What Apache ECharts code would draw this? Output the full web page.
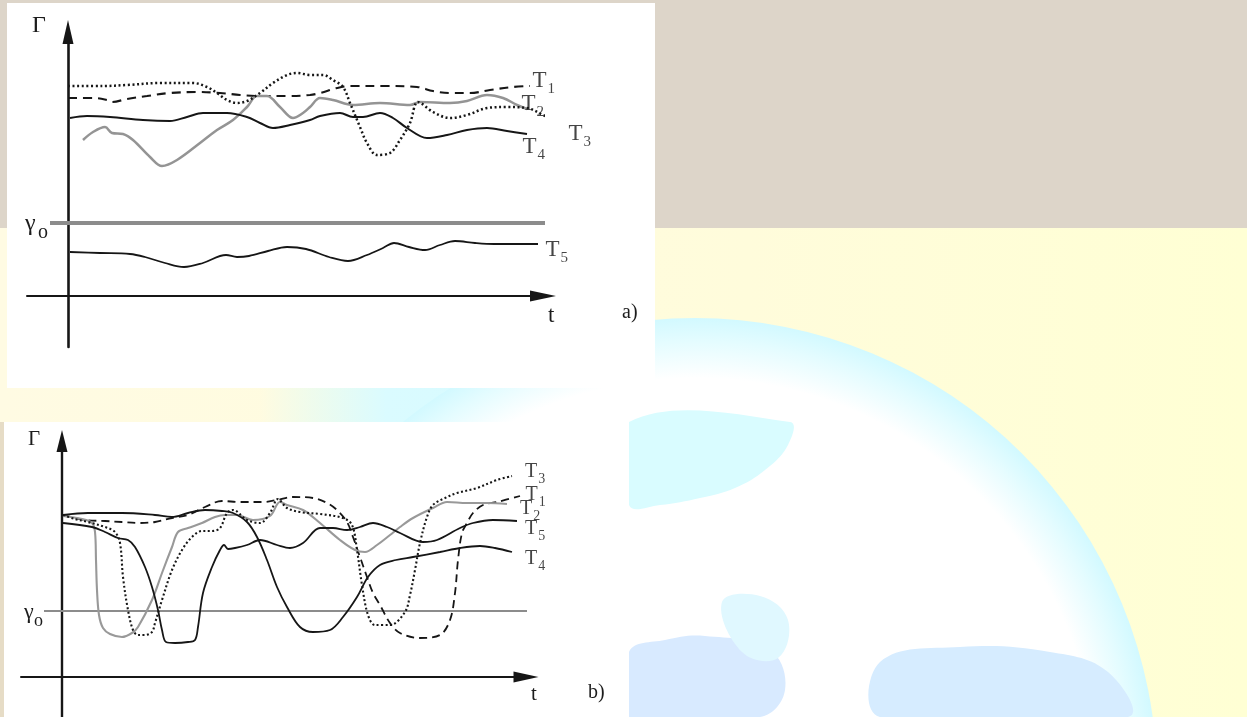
<!DOCTYPE html>
<html><head><meta charset="utf-8">
<script src="https://cdn.jsdelivr.net/npm/echarts@6/dist/echarts.min.js"></script>
<style>html,body{margin:0;padding:0;background:#fffcdc;overflow:hidden}#c{width:1247px;height:717px}</style>
</head><body><div id="c"></div>
<script>
// ---------- DATA (t, Γ) ----------
// panel a)
const a_T1 = [[0,19.8],[2.5,19.8],[3.9,19.6],[4.4,19.4],[5.9,19.7],[7.9,20.0],[10.2,20.3],[12.9,20.4],[15.2,20.3],[17.2,20.1],[19.2,20.0],[21.9,20.0],[24.2,20.1],[25.2,20.3],[26.9,20.8],[28.2,21.0],[31.5,21.0],[34.9,20.9],[36.5,20.5],[38.2,20.3],[40.2,20.3],[42.2,20.6],[44.5,20.9],[46.2,21.0]];
const a_T2 = [[1.5,15.6],[2.5,16.4],[3.7,16.9],[4.4,16.3],[5.5,16.2],[6.5,15.6],[8.2,13.9],[9.4,13.0],[10.9,13.6],[13.2,15.3],[14.9,16.6],[16.5,17.6],[17.9,18.9],[18.9,20.0],[19.9,20.0],[21.2,18.9],[22.5,17.8],[23.5,18.3],[24.2,18.9],[25.2,19.8],[26.5,19.6],[28.5,19.1],[31.2,19.3],[34.2,19.1],[35.2,19.4],[38.2,19.3],[39.9,19.5],[41.9,20.1],[43.5,19.8],[44.9,19.1],[45.9,18.7]];
const a_T3 = [[0,21.0],[3.5,21.0],[5.9,21.1],[9.2,21.3],[12.5,21.3],[13.9,20.9],[14.9,20.3],[15.9,19.6],[16.9,19.3],[17.9,19.5],[19.2,20.3],[20.5,21.3],[21.9,22.1],[22.9,22.3],[24.2,22.1],[25.5,22.1],[26.5,21.6],[27.5,20.9],[28.2,19.3],[29.2,16.9],[29.9,15.3],[30.9,14.1],[32.2,14.3],[33.2,15.6],[34.2,17.3],[35.0,19.4],[36.5,18.4],[38.2,17.8],[39.9,18.1],[41.9,18.8],[43.9,18.9],[45.9,18.8],[47.5,18.1],[48.5,17.6]];
const a_T4 = [[0.2,17.8],[1.9,18.0],[4.2,17.9],[7.5,17.6],[10.2,17.5],[11.9,17.9],[13.5,18.3],[15.9,18.3],[17.9,17.9],[19.2,17.3],[20.5,16.8],[22.2,17.1],[24.2,17.6],[25.2,18.0],[27.2,18.3],[28.5,17.9],[29.5,17.9],[31.2,18.3],[32.5,17.8],[33.9,16.8],[35.9,15.8],[37.9,16.1],[39.9,16.6],[41.9,16.8],[43.9,16.5],[45.9,16.2]];
const a_T5 = [[0.2,4.4],[3.2,4.3],[6.2,4.2],[7.7,3.9],[9.7,3.3],[11.6,2.9],[13.5,3.3],[15.8,4.1],[16.9,3.9],[18.1,4.0],[20.0,4.5],[21.9,4.9],[23.8,4.7],[26.1,3.9],[28.0,3.5],[29.9,4.1],[31.5,4.8],[32.6,5.3],[34.1,4.9],[35.7,4.6],[37.2,5.1],[38.7,5.5],[40.7,5.3],[42.6,5.2],[47.0,5.2]];
const a_gamma0 = 7.3;
const a_gammaSpan = [-1.8, 48.1];

// panel b)
const b_T1 = [[0.1,16.2],[2.3,15.7],[4.3,15.6],[6.0,15.5],[7.6,15.4],[9.3,15.5],[11.0,15.9],[12.6,16.2],[14.3,17.0],[16.0,17.6],[17.8,17.5],[20.1,17.5],[21.5,17.7],[23.1,18.0],[25.1,17.9],[26.5,17.4],[27.5,16.7],[28.5,15.5],[29.1,14.0],[29.8,12.0],[30.5,10.0],[31.1,8.4],[31.8,7.2],[32.8,5.4],[33.8,4.4],[35.8,3.9],[37.8,4.2],[38.8,5.7],[39.3,8.4],[39.6,11.7],[40.0,14.4],[40.5,15.4],[41.1,16.4],[42.1,17.2],[43.5,17.5],[45.8,18.1]];
const b_T2 = [[0.1,16.1],[2.0,15.8],[3.0,15.4],[3.3,14.5],[3.4,11.7],[3.5,8.7],[3.7,6.2],[4.1,4.9],[4.8,4.3],[6.0,4.0],[7.0,4.4],[7.6,5.0],[9.0,7.7],[10.0,10.4],[11.0,13.0],[11.6,14.5],[12.6,14.9],[14.0,15.4],[15.3,16.0],[16.3,16.2],[17.5,16.2],[19.1,15.7],[20.8,16.1],[21.8,17.5],[22.5,17.2],[24.1,16.7],[25.8,15.4],[27.8,13.7],[29.3,12.7],[30.3,12.5],[31.5,13.2],[32.8,14.2],[33.8,15.0],[35.1,15.9],[37.1,16.9],[38.5,17.5],[40.5,17.4],[42.5,17.4],[44.5,17.3]];
const b_T3 = [[0.1,16.2],[1.3,15.8],[2.6,15.5],[4.3,15.0],[5.3,14.5],[5.8,13.4],[6.1,10.0],[6.6,6.7],[7.1,4.7],[7.6,4.2],[8.3,4.2],[9.0,4.5],[9.3,5.4],[10.0,7.7],[11.0,10.7],[12.0,12.7],[13.0,14.0],[14.0,14.6],[15.0,14.6],[15.8,14.9],[16.5,16.4],[17.1,16.7],[18.5,15.7],[19.8,15.4],[20.8,16.4],[21.6,17.8],[22.5,16.9],[23.8,16.5],[25.8,16.3],[28.1,15.9],[29.0,15.2],[29.5,12.7],[30.0,9.2],[30.6,6.2],[31.3,5.2],[32.8,5.2],[34.3,6.5],[34.8,8.2],[35.3,10.7],[35.8,13.4],[36.5,16.0],[37.1,17.2],[38.3,17.9],[39.5,18.4],[41.5,18.9],[43.5,19.7],[45.0,20.1]];
const b_T4 = [[0.1,16.2],[2.6,16.4],[6.0,16.4],[9.3,16.2],[11.0,16.0],[12.6,16.4],[14.3,16.7],[16.0,16.6],[17.1,16.4],[18.5,15.5],[19.5,14.0],[20.5,11.7],[21.5,9.0],[22.5,7.0],[23.8,5.0],[25.1,4.5],[26.8,4.7],[28.1,6.0],[29.5,8.0],[30.6,10.0],[31.8,11.2],[33.4,11.7],[35.1,12.0],[37.8,12.5],[39.8,12.9],[41.8,13.1],[43.3,12.9],[45.0,12.5]];
const b_T5 = [[0.1,15.4],[3.0,15.0],[4.3,14.5],[5.6,13.9],[6.6,13.7],[7.3,13.0],[8.3,11.0],[9.0,9.0],[9.6,6.7],[10.0,4.7],[10.4,3.5],[11.3,3.4],[12.6,3.5],[13.3,3.7],[13.6,5.0],[14.1,8.4],[15.0,11.0],[15.8,12.7],[16.2,13.2],[16.6,12.8],[17.3,12.9],[18.5,13.2],[19.8,13.7],[21.5,13.2],[22.8,12.9],[24.1,13.4],[25.8,14.9],[27.1,14.9],[28.5,14.7],[29.8,15.0],[31.1,15.4],[32.5,15.0],[33.8,14.4],[36.1,13.5],[37.5,13.7],[39.8,14.9],[41.1,15.4],[43.1,15.7],[45.5,15.6]];
const b_gamma0 = 6.6;
const b_gammaSpan = [-1.8, 46.8];

// series labels and axis extents
const seriesNames = ['T1','T2','T3','T4','T5'];
const axisA = {tMin:-4.1, tMax:47.5, gMin:-5.1, gMax:26.4};
const axisB = {tMin:-4.1, tMax:46.4, gMin:-4.0, gMax:23.6};

// ---------- STYLES ----------
const INK = '#161616';
const SERIF = '"Liberation Serif", "DejaVu Serif", serif';
const stA = {
  T1:{color:INK,width:2.1,type:[9,6]},
  T2:{color:'#949494',width:2.5,type:'solid'},
  T3:{color:INK,width:2.5,type:[2,2.6]},
  T4:{color:INK,width:2,type:'solid'},
  T5:{color:INK,width:1.8,type:'solid'}
};
const stB = {
  T1:{color:INK,width:1.8,type:[8,5]},
  T2:{color:'#999999',width:2.1,type:'solid'},
  T3:{color:INK,width:2.1,type:[2,2.4]},
  T4:{color:INK,width:1.8,type:'solid'},
  T5:{color:INK,width:1.8,type:'solid'}
};
const labelOffA = {T1:[-3,-3],T2:[-11,-3],T3:[10,16],T4:[-10,15],T5:[2,8]};
const labelOffB = {T1:[0,1],T2:[7.5,7],T3:[7.5,-2],T4:[7.5,9],T5:[2.5,10]};

const dataA = {T1:a_T1,T2:a_T2,T3:a_T3,T4:a_T4,T5:a_T5};
const dataB = {T1:b_T1,T2:b_T2,T3:b_T3,T4:b_T4,T5:b_T5};

function lineS(gi, data, style) {
  return {type:'line', xAxisIndex:gi, yAxisIndex:gi, data:data, symbol:'none', showSymbol:false,
    smooth:0.35, clip:false, silent:true, lineStyle:style, z:3};
}
function labelS(gi, dataMap, offs, tSize, sSize, pad) {
  return {type:'scatter', xAxisIndex:gi, yAxisIndex:gi, symbolSize:1, itemStyle:{color:'transparent'},
    clip:false, silent:true, z:6,
    data: seriesNames.map(n => {
      const d = dataMap[n]; const last = d[d.length-1];
      return {value:last, label:{offset:offs[n], formatter:'{t|'+n.charAt(0)+'}{s|'+n.slice(1)+'}'}};
    }),
    label:{show:true, position:'right', distance:5, color:INK,
      rich:{t:{fontSize:tSize, fontFamily:SERIF, color:INK, verticalAlign:'top'},
            s:{fontSize:sSize, fontFamily:SERIF, color:INK, verticalAlign:'top', padding:[pad,0,0,1]}}}
  };
}
function thrS(gi, g, span, w) {
  return {type:'line', xAxisIndex:gi, yAxisIndex:gi, data:[[span[0],g],[span[1],g]], symbol:'none',
    clip:false, silent:true, lineStyle:{color:'#8c8c8c', width:w}, z:2};
}
function axisX(gi, ax, lw, arrow) {
  return {type:'value', gridIndex:gi, min:ax.tMin, max:ax.tMax,
    axisLine:{show:true, onZero:true, symbol:['none','triangle'], symbolSize:arrow, lineStyle:{color:INK, width:lw}},
    axisTick:{show:false}, axisLabel:{show:false}, splitLine:{show:false}};
}
function axisY(gi, ax, lw, arrow) {
  return {type:'value', gridIndex:gi, min:ax.gMin, max:ax.gMax,
    axisLine:{show:true, onZero:true, symbol:['none','triangle'], symbolSize:arrow, lineStyle:{color:INK, width:lw}},
    axisTick:{show:false}, axisLabel:{show:false}, splitLine:{show:false}};
}
function txt(text, x, y, size) {
  return {type:'text', z:50, silent:true, style:{text:text, x:x, y:y, font:size+'px '+SERIF, fill:'#1c1c1c', verticalAlign:'middle', align:'left'}};
}
function poly(pts, fill) {
  return {type:'polygon', z:-96, silent:true, shape:{points:pts, smooth:0.4}, style:{fill:fill}};
}

const chart = echarts.init(document.getElementById('c'), null, {renderer:'canvas', width:1247, height:717});

const graphic = [
  {type:'rect', z:-100, silent:true, shape:{x:0,y:0,width:1247,height:717},
    style:{fill:{type:'linear',x:0,y:0,x2:1,y2:0,colorStops:[{offset:0,color:'#fffbe3'},{offset:0.6,color:'#fffcdb'},{offset:1,color:'#ffffd4'}]}}},
  {type:'rect', z:-99, silent:true, shape:{x:0,y:0,width:1247,height:228}, style:{fill:'#ddd5c9'}},
  {type:'rect', z:-99, silent:true, shape:{x:0,y:422,width:4,height:295}, style:{fill:'#e6dcc6'}},
  {type:'rect', z:-98, silent:true, shape:{x:260,y:386,width:420,height:40},
    style:{fill:{type:'linear',x:0,y:0,x2:1,y2:0,colorStops:[{offset:0,color:'rgba(214,251,255,0)'},{offset:0.3,color:'#dafbff'},{offset:1,color:'#d3faff'}]}}},
  {type:'circle', z:-97, silent:true, shape:{cx:695,cy:780,r:462},
    style:{fill:{type:'radial',x:0.5,y:0.5,r:0.5,colorStops:[{offset:0,color:'#ffffff'},{offset:0.87,color:'#ffffff'},{offset:0.95,color:'#e4fcff'},{offset:1,color:'#d2f9ff'}]}}},
  poly([[629,422],[790,422],[788,445],[765,470],[735,488],[700,498],[660,505],[629,505]], '#d9fcff'),
  poly([[629,652],[665,640],[705,636],[770,650],[785,690],[760,717],[629,717]], '#d8eaff'),
  poly([[722,602],[760,596],[788,620],[778,658],[742,652]], '#e0f8ff'),
  poly([[880,662],[960,647],[1050,652],[1108,672],[1128,717],[880,717]], '#d6ecff'),
  {type:'rect', z:-90, silent:true, shape:{x:7,y:3,width:648,height:385}, style:{fill:'#ffffff'}},
  {type:'rect', z:-90, silent:true, shape:{x:4,y:422,width:625,height:295}, style:{fill:'#ffffff'}},
  // annotations panel a
  txt('Γ', 32, 26, 24),
  txt('t', 548, 316, 23),
  txt('a)', 622, 313, 20),
  txt('γ', 25, 224, 24),
  txt('o', 38, 233, 20),
  // annotations panel b
  txt('Γ', 28, 439, 21),
  txt('t', 531, 694, 21),
  txt('b)', 588, 693, 20),
  txt('γ', 24, 612, 22),
  txt('o', 34, 621, 18)
];

const option = {
  animation:false,
  backgroundColor:'transparent',
  graphic: graphic,
  grid:[
    {left:27, top:32, width:516, height:315, show:false},
    {left:21, top:441, width:505, height:276, show:false}
  ],
  xAxis:[ axisX(0, axisA, 2, [11,26]), axisX(1, axisB, 2, [11,25]) ],
  yAxis:[ axisY(0, axisA, 2.6, [11,24]), axisY(1, axisB, 2.4, [11,22]) ],
  series:[
    thrS(0, a_gamma0, a_gammaSpan, 4),
    thrS(1, b_gamma0, b_gammaSpan, 2),
    ...seriesNames.map(n => lineS(0, dataA[n], stA[n])),
    ...seriesNames.map(n => lineS(1, dataB[n], stB[n])),
    labelS(0, dataA, labelOffA, 23, 15, 13),
    labelS(1, dataB, labelOffB, 20, 14, 11.5)
  ]
};
chart.setOption(option);
</script>
</body></html>
